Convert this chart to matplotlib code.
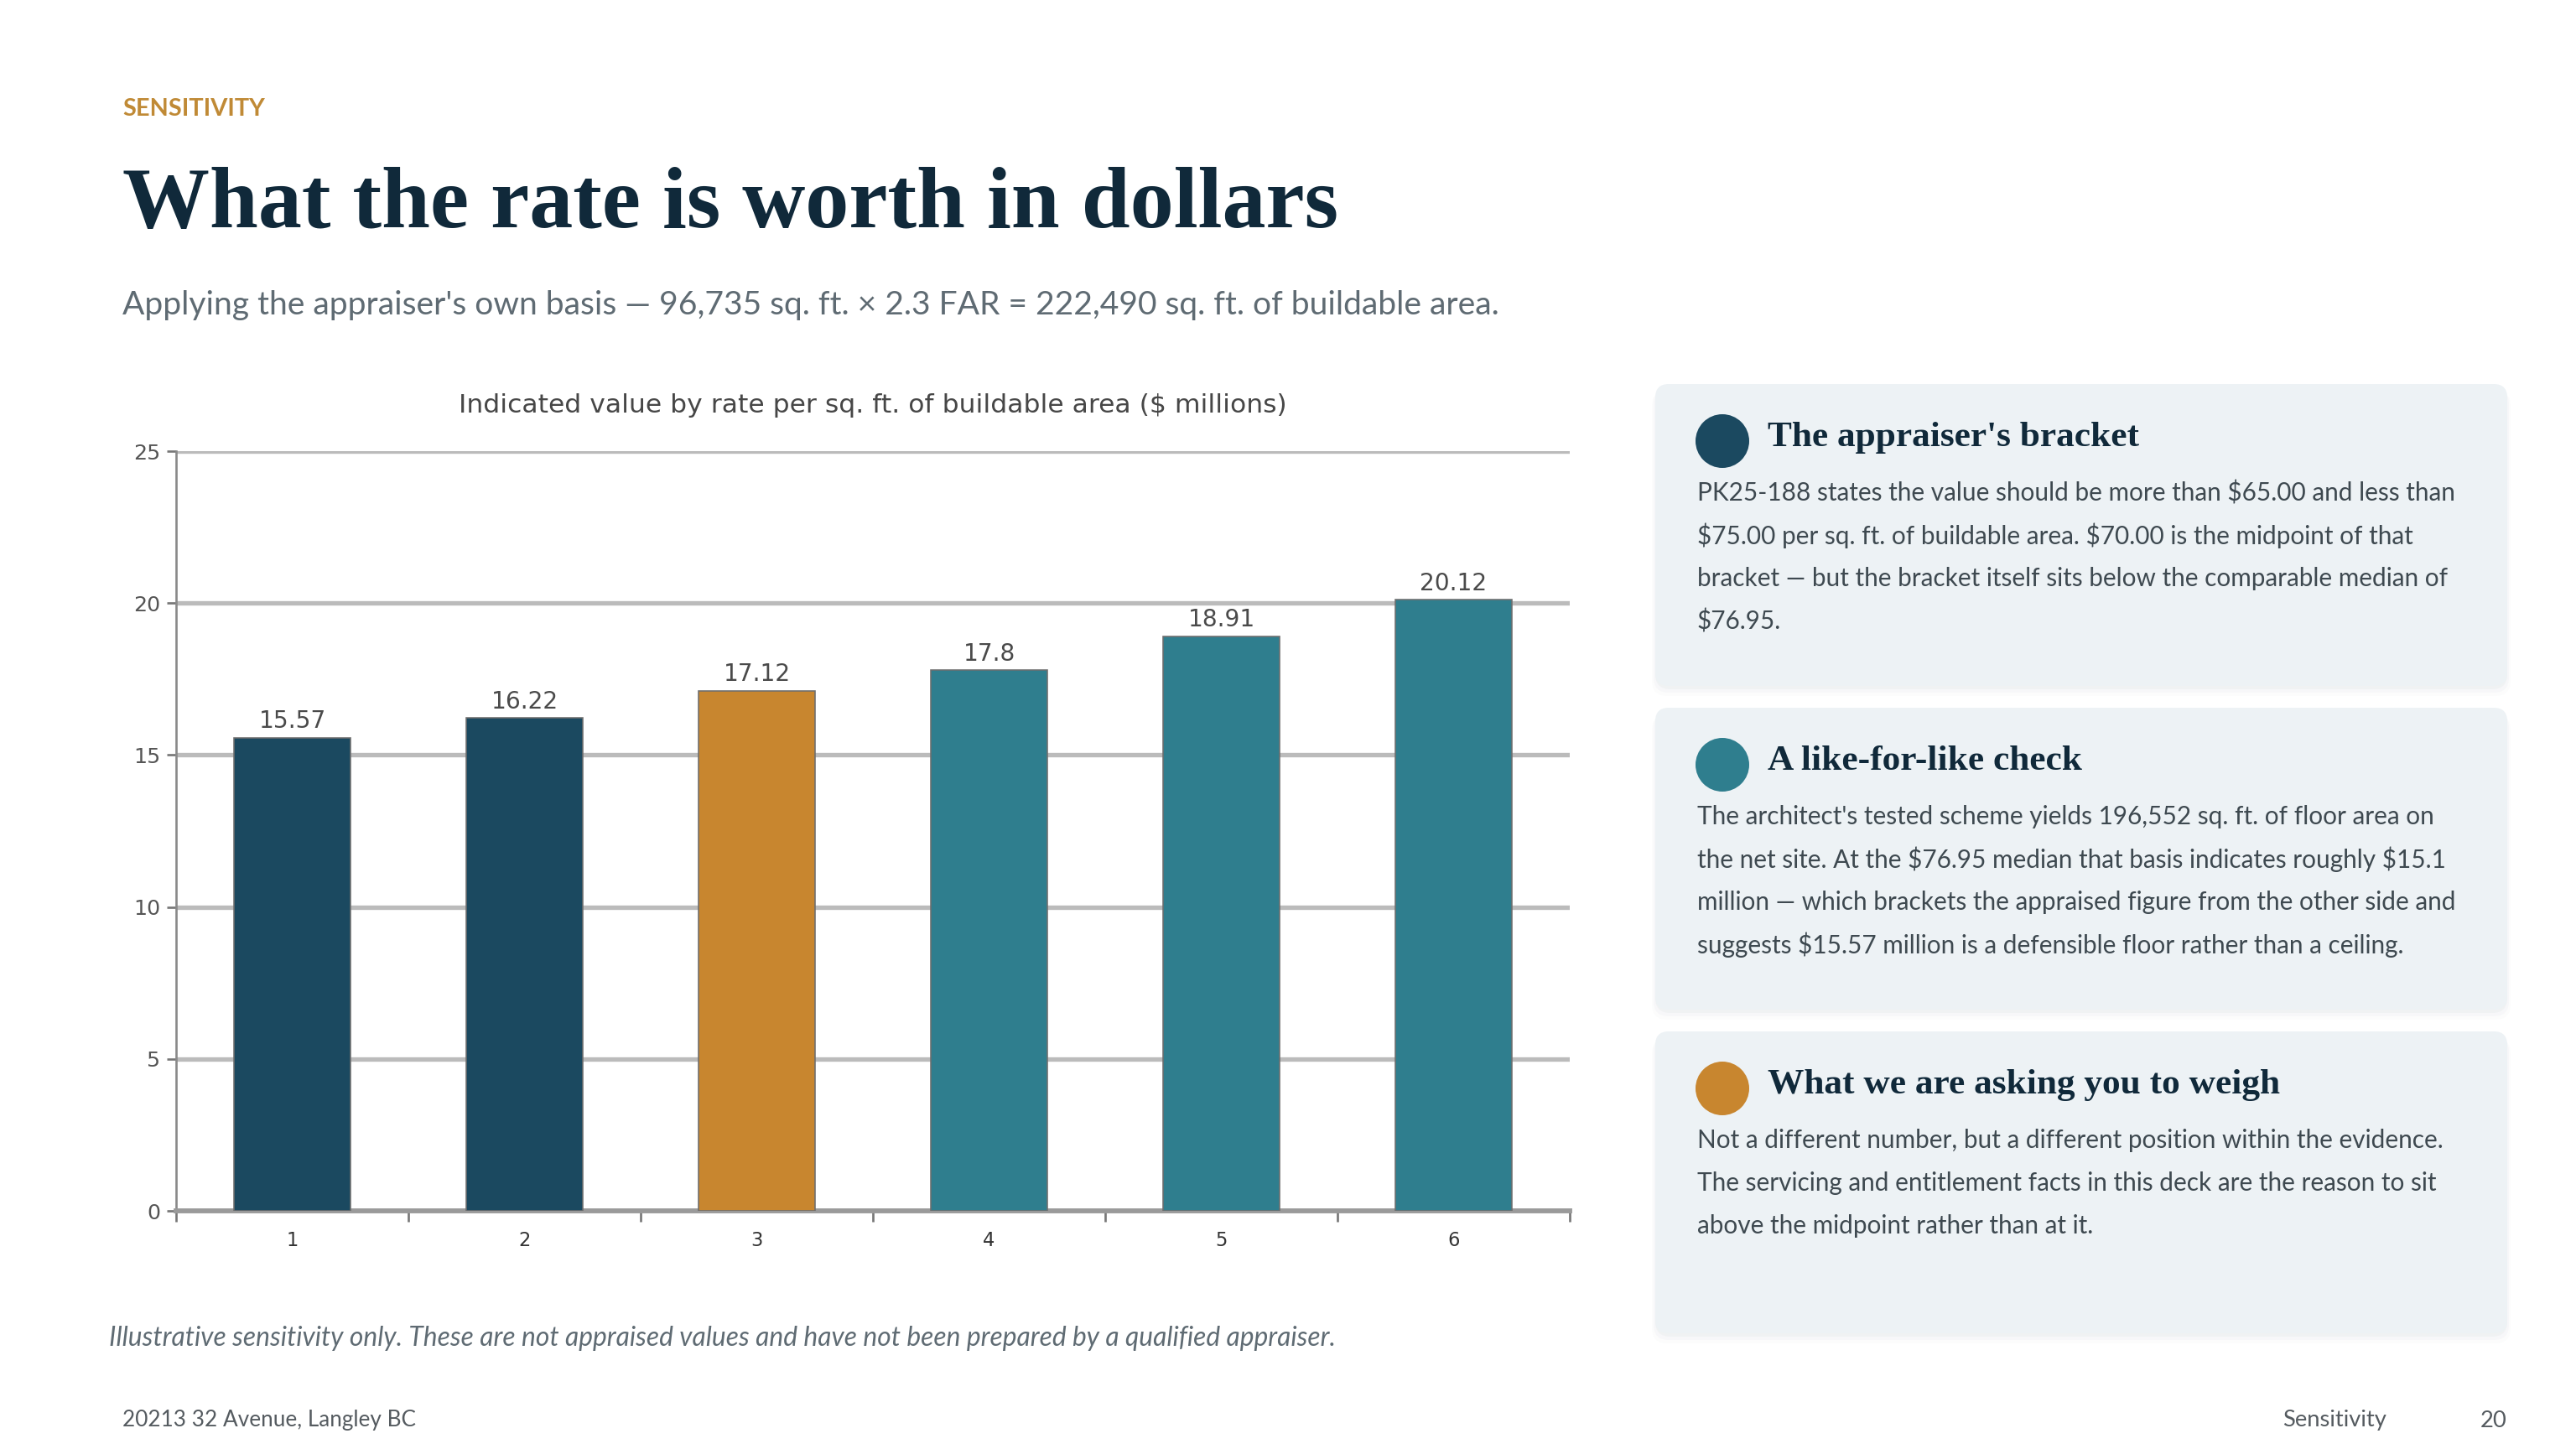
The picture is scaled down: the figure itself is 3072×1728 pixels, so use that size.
import numpy as np
import matplotlib
matplotlib.use("Agg")
import matplotlib.pyplot as plt
from matplotlib.patches import FancyBboxPatch, Circle

plt.rcParams['text.parse_math'] = False

# ---- data ----
rate_labels = ['1', '2', '3', '4', '5', '6']
values = [15.57, 16.22, 17.12, 17.8, 18.91, 20.12]
bar_groups = ['bracket', 'bracket', 'mid', 'comp', 'comp', 'comp']
y_ticks = [0, 5, 10, 15, 20, 25]

card_titles = [
    "The appraiser's bracket",
    "A like-for-like check",
    "What we are asking you to weigh",
]
card_lines = [
    ["PK25-188 states the value should be more than $65.00 and less than",
     "$75.00 per sq. ft. of buildable area. $70.00 is the midpoint of that",
     "bracket \u2014 but the bracket itself sits below the comparable median of",
     "$76.95."],
    ["The architect's tested scheme yields 196,552 sq. ft. of floor area on",
     "the net site. At the $76.95 median that basis indicates roughly $15.1",
     "million \u2014 which brackets the appraised figure from the other side and",
     "suggests $15.57 million is a defensible floor rather than a ceiling."],
    ["Not a different number, but a different position within the evidence.",
     "The servicing and entitlement facts in this deck are the reason to sit",
     "above the midpoint rather than at it."],
]
card_groups = ['bracket', 'comp', 'mid']

# ---- style ----
NAVY = '#1B4960'
TEAL = '#2F7E8E'
ORANGE = '#C8862F'
group_colors = {'bracket': NAVY, 'mid': ORANGE, 'comp': TEAL}
INK = '#10293A'
GREY = '#5F6B73'
BODY = '#3E4950'
SERIF = 'Liberation Serif'
SANS = 'Lato'

W, H = 1536, 864          # layout units (half of output pixels)
S = 2.0                   # output pixels per layout unit

fig = plt.figure(figsize=(16, 9), dpi=192)
fig.patch.set_facecolor('white')

# full-figure overlay in layout units
bg = fig.add_axes([0, 0, 1, 1])
bg.set_xlim(0, W)
bg.set_ylim(H, 0)
bg.axis('off')

renderer = fig.canvas.get_renderer()


def fit(x, y, s, width, size=20, **kw):
    t = bg.text(x, y, s, fontsize=size, **kw)
    w = t.get_window_extent(renderer).width / S
    t.set_fontsize(size * width / w)
    return t


def fit_size(s, width, size=20, **kw):
    t = bg.text(0, 0, s, fontsize=size, **kw)
    w = t.get_window_extent(renderer).width / S
    t.remove()
    return size * width / w


# ---- header ----
fit(73, 65, 'SENSITIVITY', 85, family=SANS, weight='bold', color='#C08A36', va='center')
fit(73, 123, 'What the rate is worth in dollars', 725, family=SERIF, weight='bold',
    color=INK, va='center')
fit(73, 182, "Applying the appraiser's own basis \u2014 96,735 sq. ft. \u00d7 2.3 FAR = "
    "222,490 sq. ft. of buildable area.", 820, family=SANS, color=GREY, va='center')

# ---- chart ----
L, R, T, B = 105, 936, 269, 722
ax = fig.add_axes([L / W, 1 - B / H, (R - L) / W, (B - T) / H])
x = np.arange(1, len(values) + 1)
bars = ax.bar(x, values, width=0.5, color=[group_colors[g] for g in bar_groups],
              edgecolor='#6E6E6E', linewidth=0.6, zorder=3)
for xi, v in zip(x, values):
    ax.annotate(f'{v:g}', (xi, v), xytext=(0, 2), textcoords='offset points',
                ha='center', va='bottom', fontsize=10.5, color='#4A4A4A',
                family='DejaVu Sans')

ax.set_xlim(0.5, len(values) + 0.5)
ax.set_ylim(0, 25)
ax.set_yticks(y_ticks)
ax.set_yticklabels([str(t) for t in y_ticks], fontsize=9.5, color='#555555')
ax.set_xticks(np.arange(0.5, len(values) + 1, 1))
ax.set_xticklabels([])
ax.set_xticks(x, rate_labels, minor=True)
ax.tick_params(axis='x', which='minor', length=0, pad=9, labelsize=8.5, labelcolor='#333333')
ax.tick_params(axis='x', which='major', length=5, color='#777777', width=1)
ax.tick_params(axis='y', length=4, color='#777777', width=1, pad=3)
ax.yaxis.grid(True, color='#BBBBBB', linewidth=2.0, zorder=0)
ax.set_axisbelow(True)
for side in ('top', 'right'):
    ax.spines[side].set_visible(False)
ax.spines['left'].set_color('#8A8A8A')
ax.spines['left'].set_linewidth(1.0)
ax.spines['bottom'].set_color('#9A9A9A')
ax.spines['bottom'].set_linewidth(2.2)

fit((L + R) / 2, 242, 'Indicated value by rate per sq. ft. of buildable area ($ millions)',
    493, family='DejaVu Sans', color='#474747', ha='center', va='center')

fit(65, 798, 'Illustrative sensitivity only. These are not appraised values and have not '
    'been prepared by a qualified appraiser.', 733, family=SANS, style='italic',
    color=GREY, va='center')

# ---- cards ----
card_x, card_w, card_h = 987, 508, 180
card_tops = [229, 422, 615]
head_size = fit_size(card_titles[0], 222, family=SERIF, weight='bold')
body_size = fit_size(card_lines[0][0], 452, family=SANS)
for top, title, lines, grp in zip(card_tops, card_titles, card_lines, card_groups):
    for k, a in enumerate([0.05, 0.035, 0.02]):
        sh = FancyBboxPatch((card_x - k, top + 2 + k), card_w + 2 * k, card_h + k,
                            boxstyle='round,pad=0,rounding_size=9', linewidth=0,
                            facecolor='#7A8A96', alpha=a, zorder=1)
        bg.add_patch(sh)
    card = FancyBboxPatch((card_x, top), card_w, card_h,
                          boxstyle='round,pad=0,rounding_size=8', linewidth=0,
                          facecolor='#EDF2F5', zorder=2)
    bg.add_patch(card)
    bg.add_patch(Circle((1027, top + 34), 16, facecolor=group_colors[grp],
                        edgecolor='none', zorder=3))
    bg.text(1054, top + 32, title, fontsize=head_size, family=SERIF, weight='bold',
            color=INK, va='center', zorder=4)
    for i, line in enumerate(lines):
        bg.text(1012, top + 65 + i * 25.5, line, fontsize=body_size, family=SANS,
                color=BODY, va='center', zorder=4)

# ---- footer ----
fit(73, 847, '20213 32 Avenue, Langley BC', 175, family=SANS, color='#555B60', va='center')
bg.text(1423, 847, 'Sensitivity', fontsize=body_size * 0.92, family=SANS,
        color='#555B60', ha='right', va='center')
bg.text(1495, 847, '20', fontsize=body_size * 0.92, family=SANS,
        color='#555B60', ha='right', va='center')

fig.savefig('out.png', dpi=192, facecolor='white')
